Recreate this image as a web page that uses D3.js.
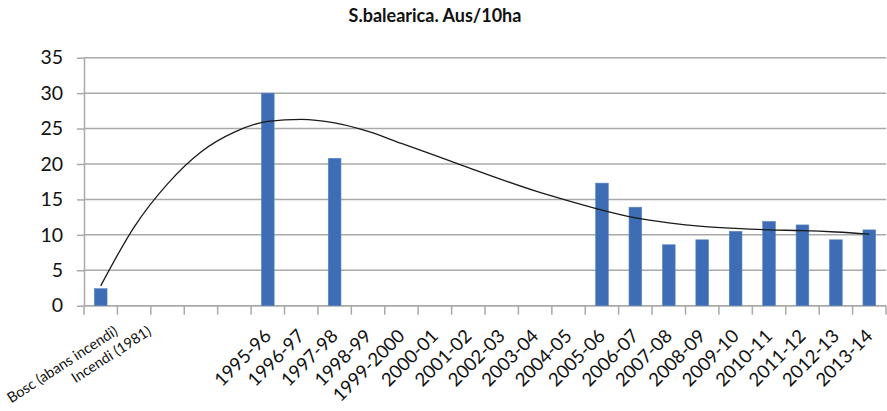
<!DOCTYPE html>
<meta charset="utf-8">
<script src="https://d3js.org/d3.v7.min.js"></script>
<style>
  body { margin: 0; background: #fff; }
  text { font-family: Lato, "Open Sans", sans-serif; fill: #111; }
</style>
<div id="my_dataviz"></div>
<script>

// categories on the x axis (blank ones are empty slots in the original)
var categories = ["Bosc (abans incendi)", "Incendi (1981)", "", "", "",
  "1995-96", "1996-97", "1997-98", "1998-99", "1999-2000", "2000-01", "2001-02",
  "2002-03", "2003-04", "2004-05", "2005-06", "2006-07", "2007-08", "2008-09",
  "2009-10", "2010-11", "2011-12", "2012-13", "2013-14"];

// bars: S.balearica per 10ha
var values = [2.4, null, null, null, null, 30.0, null, 20.8, null, null, null, null,
  null, null, null, 17.3, 13.9, 8.6, 9.3, 10.5, 11.9, 11.4, 9.3, 10.7];

// trend line at each category
var trend = [2.8, 11.1, 17.2, 21.7, 24.5, 26.0, 26.3, 25.8, 24.6, 22.9, 21.2, 19.5,
  17.8, 16.2, 14.8, 13.5, 12.4, 11.7, 11.2, 10.9, 10.7, 10.6, 10.4, 10.1];

var yTicks = [0, 5, 10, 15, 20, 25, 30, 35];
var title = "S.balearica. Aus/10ha";

var W = 887, H = 411;
var margin = {top: 57.7, right: 1, bottom: 105.3, left: 84},
    width = W - margin.left - margin.right,
    height = H - margin.top - margin.bottom;

var svg = d3.select("#my_dataviz")
  .append("svg")
    .attr("width", W)
    .attr("height", H);

var g = svg.append("g")
    .attr("transform", "translate(" + margin.left + "," + margin.top + ")");

// scales
var x = d3.scaleBand()
    .domain(d3.range(categories.length))
    .range([0, width])
    .padding(0);

var y = d3.scaleLinear()
    .domain([0, 35])
    .range([height, 0]);

// gridlines
g.append("g")
  .selectAll("line")
  .data(yTicks)
  .enter().append("line")
    .attr("x1", 0)
    .attr("x2", width)
    .attr("y1", function(d){ return y(d); })
    .attr("y2", function(d){ return y(d); })
    .attr("stroke", "#a9a9a9")
    .attr("stroke-width", 1.5);

// Y axis
var yAxis = g.append("g")
    .call(d3.axisLeft(y).tickValues(yTicks).tickSize(7).tickPadding(14).tickSizeOuter(0));
yAxis.select(".domain").attr("stroke", "#a9a9a9").attr("stroke-width", 1.5);
yAxis.selectAll(".tick line").attr("stroke", "#a9a9a9").attr("stroke-width", 1.5);
yAxis.selectAll(".tick text")
    .style("font-size", "19.5px")
    .attr("fill", "#111");

// X axis line and tick marks at category boundaries
var xAxis = g.append("g")
    .attr("transform", "translate(0," + height + ")");
xAxis.append("line")
    .attr("x1", 0).attr("x2", width)
    .attr("stroke", "#a9a9a9").attr("stroke-width", 1.5);
xAxis.selectAll("line.tk")
  .data(d3.range(categories.length + 1))
  .enter().append("line")
    .attr("class", "tk")
    .attr("x1", function(i){ return i < categories.length ? x(i) : width; })
    .attr("x2", function(i){ return i < categories.length ? x(i) : width; })
    .attr("y1", 0)
    .attr("y2", 9)
    .attr("stroke", "#a9a9a9")
    .attr("stroke-width", 1.5);

// rotated category labels
xAxis.selectAll("text.lbl")
  .data(categories)
  .enter().append("text")
    .attr("class", "lbl")
    .attr("text-anchor", "end")
    .style("font-size", function(d){ return d.length > 10 ? "14.5px" : "18.5px"; })
    .attr("transform", function(d, i){
      var cx = x(i) + x.bandwidth() / 2;
      if (d.length > 10) return "translate(" + (cx + 18) + ",28) rotate(-33)";
      return "translate(" + (cx + 4.5) + ",31.5) rotate(-45)";
    })
    .text(function(d){ return d; });

// bars
var barW = x.bandwidth() * 0.38;
g.append("g")
  .selectAll("rect")
  .data(values.map(function(v, i){ return {i: i, v: v}; }).filter(function(d){ return d.v != null; }))
  .enter().append("rect")
    .attr("x", function(d){ return x(d.i) + (x.bandwidth() - barW) / 2; })
    .attr("y", function(d){ return y(d.v); })
    .attr("width", barW)
    .attr("height", function(d){ return y(0) - y(d.v); })
    .attr("fill", "#3d6db4")
    .attr("stroke", "#5b85c4")
    .attr("stroke-width", 0.6);

// trend line
var line = d3.line()
    .x(function(d, i){ return x(i) + x.bandwidth() / 2; })
    .y(function(d){ return y(d); })
    .curve(d3.curveMonotoneX);

g.append("path")
    .datum(trend)
    .attr("d", line)
    .attr("fill", "none")
    .attr("stroke", "#1a1a1a")
    .attr("stroke-width", 1.3);

// title
svg.append("text")
    .attr("x", 435)
    .attr("y", 22)
    .attr("text-anchor", "middle")
    .style("font-size", "18px")
    .style("font-weight", "bold")
    .text(title);

</script>
